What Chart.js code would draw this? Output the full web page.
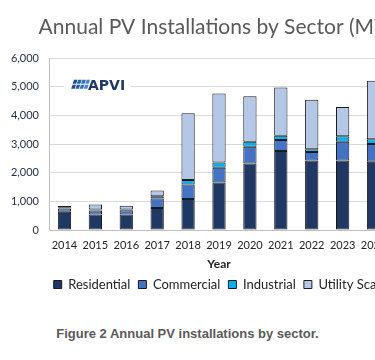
<!DOCTYPE html>
<html>
<head>
<meta charset="utf-8">
<script src="https://cdn.jsdelivr.net/npm/chart.js@4.4.1/dist/chart.umd.min.js"></script>
<style>
  html, body { margin: 0; padding: 0; background: #fff; overflow: hidden; }
  #wrap { position: relative; width: 440px; height: 301px; }
  #caption {
    position: absolute; left: 0; top: 326px; width: 375px; text-align: center;
    font: bold 13px "Liberation Sans", Arial, sans-serif; color: #595959;
  }
</style>
</head>
<body>
<div id="wrap"><canvas id="pv_chart" width="440" height="301"></canvas></div>
<div id="caption">Figure 2 Annual PV installations by sector.</div>
<script>
// Annual installs in MW
var years = ["2014", "2015", "2016", "2017", "2018", "2019", "2020", "2021", "2022", "2023", "2024"];
var residential = [640, 540, 540, 770, 1080, 1660, 2320, 2760, 2430, 2430, 2380];
var commercial = [110, 140, 150, 330, 510, 510, 590, 380, 290, 650, 620];
var industrial = [30, 40, 30, 80, 160, 190, 170, 150, 100, 190, 170];
var utilityScale = [60, 170, 130, 200, 2330, 2410, 1590, 1690, 1730, 1030, 2040];
var yTicks = [0, 1000, 2000, 3000, 4000, 5000, 6000];

var textFont = "Lato, 'Open Sans', sans-serif";

// Draws the little APVI logo sitting on the 5,000 gridline
var apviLogo = {
    id: 'apviLogo',
    afterDraw: function (chart) {
        var ctx = chart.ctx;
        var top = chart.scales.y.getPixelForValue(5000) - 7;
        ctx.save();
        ctx.fillStyle = '#fff';
        ctx.fillRect(64, top - 1, 67, 15);
        var cols = ['#1f4e8c', '#2a5fa6', '#346fbd', '#4a84d2'];
        for (var i = 0; i < 4; i++) {
            var x = 72 + i * 4.2;
            ctx.fillStyle = cols[i];
            // top row of the panel
            ctx.beginPath();
            ctx.moveTo(x + 2, top);
            ctx.lineTo(x + 5.5, top);
            ctx.lineTo(x + 4.2, top + 4);
            ctx.lineTo(x + 0.7, top + 4);
            ctx.closePath();
            ctx.fill();
            // bottom row
            ctx.beginPath();
            ctx.moveTo(x + 0.5, top + 4.8);
            ctx.lineTo(x + 4, top + 4.8);
            ctx.lineTo(x + 2.7, top + 9);
            ctx.lineTo(x - 0.8, top + 9);
            ctx.closePath();
            ctx.fill();
        }
        ctx.fillStyle = '#1f3864';
        ctx.font = "bold 14px 'DejaVu Sans', sans-serif";
        ctx.textBaseline = 'alphabetic';
        ctx.fillText('APVI', 88, top + 10);
        ctx.restore();
    }
};

var chart = new Chart(document.getElementById('pv_chart').getContext('2d'), {
    type: 'bar',
    data: {
        labels: years,
        datasets: [
            {label: 'Residential', data: residential, backgroundColor: '#1f3864'},
            {label: 'Commercial', data: commercial, backgroundColor: '#4472c4'},
            {label: 'Industrial', data: industrial, backgroundColor: '#00b0f0'},
            {label: 'Utility Scale', data: utilityScale, backgroundColor: '#b4c7e7'}
        ].map(function (d) {
            d.borderColor = '#1a1a1a';
            d.borderWidth = 1;
            d.borderSkipped = false;
            d.categoryPercentage = 1;
            d.barPercentage = 0.43;
            return d;
        })
    },
    options: {
        responsive: false,
        animation: false,
        layout: {padding: {left: 0, right: 0, top: 11, bottom: 0}},
        plugins: {
            title: {
                display: true,
                text: 'Annual PV Installations by Sector (MW)',
                color: '#595959',
                font: {family: textFont, size: 21, weight: 'normal'},
                padding: {top: 4, bottom: 18}
            },
            legend: {
                position: 'bottom',
                labels: {
                    color: '#222',
                    font: {family: textFont, size: 13},
                    boxWidth: 8,
                    boxHeight: 8,
                    padding: 8
                }
            },
            tooltip: {enabled: false}
        },
        scales: {
            x: {
                stacked: true,
                grid: {display: false},
                border: {display: true, color: '#bfbfbf'},
                ticks: {
                    color: '#222', font: {family: textFont, size: 11, lineHeight: 1},
                    padding: 2, maxRotation: 0, autoSkip: false
                },
                title: {
                    display: true, text: 'Year', color: '#222',
                    font: {family: textFont, size: 12, weight: 'bold', lineHeight: 1},
                    padding: {top: 5, bottom: 0}
                }
            },
            y: {
                stacked: true,
                min: 0,
                max: 6000,
                afterFit: function (scale) { scale.width = 49; },
                afterBuildTicks: function (scale) {
                    scale.ticks = yTicks.map(function (v) { return {value: v}; });
                },
                grid: {color: '#d9d9d9', drawTicks: false},
                border: {display: true, color: '#bfbfbf'},
                ticks: {
                    color: '#1f2a44',
                    font: {family: textFont, size: 11},
                    padding: 10,
                    callback: function (v) { return v.toLocaleString('en-US'); }
                }
            },
            // empty right-hand margin so the plot ends where the picture's does
            yRight: {
                position: 'right',
                display: true,
                grid: {display: false, drawTicks: false},
                border: {display: false},
                ticks: {display: false},
                afterFit: function (scale) { scale.width = 51; }
            }
        }
    },
    plugins: [apviLogo]
});
</script>
</body>
</html>
